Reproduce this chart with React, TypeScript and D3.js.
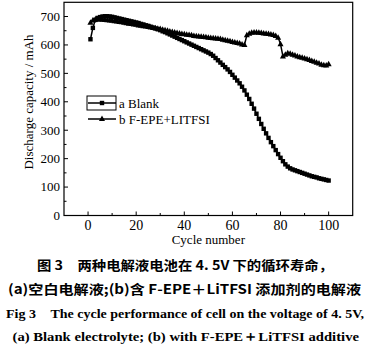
import React from "react";
import * as d3 from "d3";

const cycles: number[] = Array.from({ length: 100 }, (_, i) => i + 1);

const blankValues: number[] = [
  620, 660, 688, 695, 698, 700, 701, 701, 700, 699,
  697, 695, 693, 691, 689, 687, 685, 683, 681, 679,
  677, 674, 672, 669, 667, 664, 661, 658, 655, 652,
  648, 645, 641, 637, 633, 629, 625, 621, 617, 613,
  609, 605, 601, 597, 593, 589, 585, 581, 577, 573,
  568, 562, 554, 546, 538, 530, 522, 514, 505, 495,
  485, 475, 465, 453, 440, 425, 410, 393, 376, 358,
  340, 322, 305, 289, 273, 258, 244, 230, 216, 203,
  191, 180, 172, 166, 162, 159, 156, 153, 150, 147,
  144, 141, 138, 136, 134, 131, 129, 127, 125, 123,
];

const additiveValues: number[] = [
  678, 686, 690, 690, 690, 689, 688, 687, 686, 685,
  684, 683, 681, 680, 678, 677, 675, 674, 672, 671,
  669, 668, 666, 665, 663, 662, 660, 659, 657, 656,
  654, 652, 650, 648, 646, 644, 642, 641, 639, 638,
  636, 635, 634, 632, 631, 630, 629, 628, 627, 626,
  625, 624, 623, 622, 621, 619, 617, 615, 613, 611,
  609, 607, 605, 602, 600, 634, 640, 643, 644, 644,
  643, 642, 641, 640, 639, 637, 635, 632, 626, 603,
  560, 566, 571, 569, 566, 563, 560, 557, 555, 553,
  550, 547, 544, 541, 538, 535, 531, 529, 528, 532,
];

const xTicks: number[] = [0, 20, 40, 60, 80, 100];
const xMinorTicks: number[] = [10, 30, 50, 70, 90];
const yTicks: number[] = [0, 100, 200, 300, 400, 500, 600, 700];
const yMinorTicks: number[] = [50, 150, 250, 350, 450, 550, 650];

const legendLabels: string[] = ["a  Blank", "b  F-EPE+LITFSI"];
const xTitle = "Cycle number";
const yTitle = "Discharge capacity / mAh";
const captionLines: string[] = [
  "图 3　两种电解液电池在 4. 5V 下的循环寿命，",
  "(a)空白电解液;(b)含 F-EPE＋LiTFSI 添加剂的电解液",
  "Fig 3　The cycle performance of cell on the voltage of 4. 5V,",
  "(a) Blank electrolyte; (b) with F-EPE＋LiTFSI additive",
];

export default function App() {
  const left = 64, right = 352.7, top = 2.3, bottom = 215.5;
  const x = d3.scaleLinear().domain([-10, 110]).range([left, right]);
  const y = d3.scaleLinear().domain([0, 750]).range([bottom, top]);

  const blank = cycles.map((c, i) => [c, blankValues[i]] as [number, number]);
  const add = cycles.map((c, i) => [c, additiveValues[i]] as [number, number]);
  const line = d3.line<[number, number]>().x(d => x(d[0])).y(d => y(d[1]));

  const sq = 4.4;
  const tri = (cx: number, cy: number, s: number) =>
    `M${cx},${cy - s * 0.62}L${cx + s * 0.55},${cy + s * 0.38}L${cx - s * 0.55},${cy + s * 0.38}Z`;

  const serif = "Liberation Serif, Times New Roman, DejaVu Serif, serif";
  const cjk = "Noto Sans CJK SC, sans-serif";
  const sStyle = (size: number) => ({ fontFamily: serif, fontSize: size });

  const captionStyle = [
    { y: 270, x0: 37, x1: 333, font: cjk, size: 13 },
    { y: 294, x0: 8, x1: 361, font: cjk, size: 13 },
    { y: 318, x0: 6, x1: 364, font: serif, size: 13.5 },
    { y: 341, x0: 12.5, x1: 359, font: serif, size: 13.5 },
  ];

  return (
    <svg width={372} height={356} style={{ position: "absolute", left: 0, top: 0, background: "#fff" }}>
      <rect x={0} y={0} width={372} height={356} fill="#fff" />
      <rect x={left} y={top} width={right - left} height={bottom - top} fill="none" stroke="#000" strokeWidth={1.2} />
      {xTicks.map(t => (
        <g key={"xt" + t}>
          <line x1={x(t)} x2={x(t)} y1={bottom} y2={bottom - 4} stroke="#000" strokeWidth={1} />
          <text x={x(t)} y={229.5} textAnchor="middle" style={sStyle(14)}>{t}</text>
        </g>
      ))}
      {xMinorTicks.map(t => (
        <line key={"xm" + t} x1={x(t)} x2={x(t)} y1={bottom} y2={bottom - 2.5} stroke="#000" strokeWidth={1} />
      ))}
      {yTicks.map(t => (
        <g key={"yt" + t}>
          <line x1={left} x2={left + 4} y1={y(t)} y2={y(t)} stroke="#000" strokeWidth={1} />
          <text x={60} y={y(t) + 4.3} textAnchor="end" style={sStyle(13)}>{t}</text>
        </g>
      ))}
      {yMinorTicks.map(t => (
        <line key={"ym" + t} x1={left} x2={left + 2.5} y1={y(t)} y2={y(t)} stroke="#000" strokeWidth={1} />
      ))}
      <text x={x(50)} y={243.5} textAnchor="middle" style={sStyle(13)}>{xTitle}</text>
      <text transform={`translate(32.5,${102}) rotate(-90)`} textAnchor="middle" style={sStyle(13)}>{yTitle}</text>

      <path d={line(blank) || ""} fill="none" stroke="#000" strokeWidth={1.5} />
      {blank.map((d, i) => (
        <rect key={"b" + i} x={x(d[0]) - sq / 2} y={y(d[1]) - sq / 2} width={sq} height={sq} fill="#000" />
      ))}
      <path d={line(add) || ""} fill="none" stroke="#000" strokeWidth={1.5} />
      {add.map((d, i) => (
        <path key={"a" + i} d={tri(x(d[0]), y(d[1]), 5.5)} fill="#000" />
      ))}

      <rect x={87} y={96} width={29} height={14} fill="none" stroke="#000" strokeWidth={1} />
      <line x1={88} x2={116} y1={103} y2={103} stroke="#000" strokeWidth={1.5} />
      <rect x={102 - 2.2} y={103 - 2.2} width={4.4} height={4.4} fill="#000" />
      <text x={119} y={107.5} style={sStyle(13)}>{legendLabels[0]}</text>
      <line x1={88} x2={116} y1={119} y2={119} stroke="#000" strokeWidth={1.5} />
      <path d={tri(102, 119, 5.5)} fill="#000" />
      <text x={119} y={123.5} style={sStyle(13)}>{legendLabels[1]}</text>

      {captionLines.map((s, i) => {
        const c = captionStyle[i];
        return (
          <text key={"c" + i} x={c.x0} y={c.y} style={{ fontFamily: c.font, fontSize: c.size, fontWeight: 700 }}
            textLength={c.x1 - c.x0} lengthAdjust="spacingAndGlyphs">{s}</text>
        );
      })}
    </svg>
  );
}
